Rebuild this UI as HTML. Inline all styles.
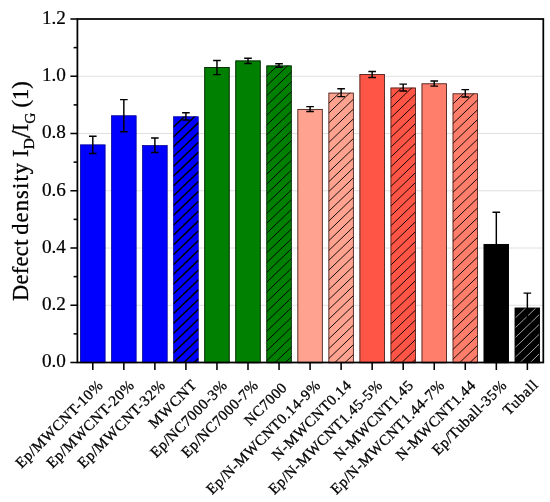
<!DOCTYPE html>
<html lang="en">
<head>
<meta charset="utf-8">
<title>Defect density chart</title>
<style>
html,body{margin:0;padding:0;background:#ffffff;}
body{width:550px;height:502px;overflow:hidden;}
svg{display:block;}
svg text{font-family:"Liberation Serif","DejaVu Serif",serif;fill:#000;}
</style>
</head>
<body>
<svg width="550" height="502" viewBox="0 0 550 502">
<rect x="0" y="0" width="550" height="502" fill="#ffffff"/>
<g stroke="#e0e0e0" stroke-width="1" fill="none">
<line x1="77.4" y1="305.25" x2="543.3" y2="305.25"/>
<line x1="77.4" y1="248.00" x2="543.3" y2="248.00"/>
<line x1="77.4" y1="190.75" x2="543.3" y2="190.75"/>
<line x1="77.4" y1="133.50" x2="543.3" y2="133.50"/>
<line x1="77.4" y1="76.25" x2="543.3" y2="76.25"/>
</g>
<defs>
<clipPath id="cb3"><rect x="173.37" y="116.50" width="25.10" height="246.00"/></clipPath>
<clipPath id="cb6"><rect x="266.49" y="65.60" width="25.10" height="296.90"/></clipPath>
<clipPath id="cb8"><rect x="328.57" y="92.80" width="25.10" height="269.70"/></clipPath>
<clipPath id="cb10"><rect x="390.65" y="87.70" width="25.10" height="274.80"/></clipPath>
<clipPath id="cb12"><rect x="452.73" y="93.50" width="25.10" height="269.00"/></clipPath>
<clipPath id="cb14"><rect x="514.81" y="307.80" width="25.10" height="54.70"/></clipPath>
</defs>
<g>
<rect x="80.25" y="144.60" width="25.10" height="217.90" fill="#0000ff"/>
<rect x="80.55" y="144.90" width="24.50" height="217.90" fill="none" stroke="#000070" stroke-width="0.6"/>
<path d="M92.80 136.20V153.40M89.00 136.20H96.60M89.00 153.40H96.60" stroke="#000" stroke-width="1.45" fill="none"/>
</g>
<g>
<rect x="111.29" y="115.50" width="25.10" height="247.00" fill="#0000ff"/>
<rect x="111.59" y="115.80" width="24.50" height="247.00" fill="none" stroke="#000070" stroke-width="0.6"/>
<path d="M123.84 99.60V131.80M120.04 99.60H127.64M120.04 131.80H127.64" stroke="#000" stroke-width="1.45" fill="none"/>
</g>
<g>
<rect x="142.33" y="145.30" width="25.10" height="217.20" fill="#0000ff"/>
<rect x="142.63" y="145.60" width="24.50" height="217.20" fill="none" stroke="#000070" stroke-width="0.6"/>
<path d="M154.88 137.90V152.40M151.08 137.90H158.68M151.08 152.40H158.68" stroke="#000" stroke-width="1.45" fill="none"/>
</g>
<g>
<rect x="173.37" y="116.50" width="25.10" height="246.00" fill="#0000ff"/>
<g clip-path="url(#cb3)" stroke="#000000" stroke-width="1.5" fill="none">
<line x1="173.37" y1="127.12" x2="198.47" y2="103.02"/>
<line x1="173.37" y1="136.94" x2="198.47" y2="112.84"/>
<line x1="173.37" y1="146.76" x2="198.47" y2="122.66"/>
<line x1="173.37" y1="156.58" x2="198.47" y2="132.48"/>
<line x1="173.37" y1="166.40" x2="198.47" y2="142.30"/>
<line x1="173.37" y1="176.22" x2="198.47" y2="152.12"/>
<line x1="173.37" y1="186.04" x2="198.47" y2="161.94"/>
<line x1="173.37" y1="195.86" x2="198.47" y2="171.76"/>
<line x1="173.37" y1="205.68" x2="198.47" y2="181.58"/>
<line x1="173.37" y1="215.50" x2="198.47" y2="191.40"/>
<line x1="173.37" y1="225.32" x2="198.47" y2="201.22"/>
<line x1="173.37" y1="235.14" x2="198.47" y2="211.04"/>
<line x1="173.37" y1="244.96" x2="198.47" y2="220.86"/>
<line x1="173.37" y1="254.78" x2="198.47" y2="230.68"/>
<line x1="173.37" y1="264.60" x2="198.47" y2="240.50"/>
<line x1="173.37" y1="274.42" x2="198.47" y2="250.32"/>
<line x1="173.37" y1="284.24" x2="198.47" y2="260.14"/>
<line x1="173.37" y1="294.06" x2="198.47" y2="269.96"/>
<line x1="173.37" y1="303.88" x2="198.47" y2="279.78"/>
<line x1="173.37" y1="313.70" x2="198.47" y2="289.60"/>
<line x1="173.37" y1="323.52" x2="198.47" y2="299.42"/>
<line x1="173.37" y1="333.34" x2="198.47" y2="309.24"/>
<line x1="173.37" y1="343.16" x2="198.47" y2="319.06"/>
<line x1="173.37" y1="352.98" x2="198.47" y2="328.88"/>
<line x1="173.37" y1="362.80" x2="198.47" y2="338.70"/>
<line x1="173.37" y1="372.62" x2="198.47" y2="348.52"/>
<line x1="173.37" y1="382.44" x2="198.47" y2="358.34"/>
</g>
<rect x="173.67" y="116.80" width="24.50" height="246.00" fill="none" stroke="#000070" stroke-width="0.6"/>
<path d="M185.92 112.70V120.00M182.12 112.70H189.72M182.12 120.00H189.72" stroke="#000" stroke-width="1.45" fill="none"/>
</g>
<g>
<rect x="204.41" y="67.20" width="25.10" height="295.30" fill="#008000"/>
<rect x="204.71" y="67.50" width="24.50" height="295.30" fill="none" stroke="#062006" stroke-width="0.85"/>
<path d="M216.96 60.40V74.60M213.16 60.40H220.76M213.16 74.60H220.76" stroke="#000" stroke-width="1.45" fill="none"/>
</g>
<g>
<rect x="235.45" y="60.60" width="25.10" height="301.90" fill="#008000"/>
<rect x="235.75" y="60.90" width="24.50" height="301.90" fill="none" stroke="#062006" stroke-width="0.85"/>
<path d="M248.00 58.30V63.40M244.20 58.30H251.80M244.20 63.40H251.80" stroke="#000" stroke-width="1.45" fill="none"/>
</g>
<g>
<rect x="266.49" y="65.60" width="25.10" height="296.90" fill="#008000"/>
<g clip-path="url(#cb6)" stroke="#000000" stroke-width="0.95" fill="none">
<line x1="266.49" y1="76.22" x2="291.59" y2="52.12"/>
<line x1="266.49" y1="86.04" x2="291.59" y2="61.94"/>
<line x1="266.49" y1="95.86" x2="291.59" y2="71.76"/>
<line x1="266.49" y1="105.68" x2="291.59" y2="81.58"/>
<line x1="266.49" y1="115.50" x2="291.59" y2="91.40"/>
<line x1="266.49" y1="125.32" x2="291.59" y2="101.22"/>
<line x1="266.49" y1="135.14" x2="291.59" y2="111.04"/>
<line x1="266.49" y1="144.96" x2="291.59" y2="120.86"/>
<line x1="266.49" y1="154.78" x2="291.59" y2="130.68"/>
<line x1="266.49" y1="164.60" x2="291.59" y2="140.50"/>
<line x1="266.49" y1="174.42" x2="291.59" y2="150.32"/>
<line x1="266.49" y1="184.24" x2="291.59" y2="160.14"/>
<line x1="266.49" y1="194.06" x2="291.59" y2="169.96"/>
<line x1="266.49" y1="203.88" x2="291.59" y2="179.78"/>
<line x1="266.49" y1="213.70" x2="291.59" y2="189.60"/>
<line x1="266.49" y1="223.52" x2="291.59" y2="199.42"/>
<line x1="266.49" y1="233.34" x2="291.59" y2="209.24"/>
<line x1="266.49" y1="243.16" x2="291.59" y2="219.06"/>
<line x1="266.49" y1="252.98" x2="291.59" y2="228.88"/>
<line x1="266.49" y1="262.80" x2="291.59" y2="238.70"/>
<line x1="266.49" y1="272.62" x2="291.59" y2="248.52"/>
<line x1="266.49" y1="282.44" x2="291.59" y2="258.34"/>
<line x1="266.49" y1="292.26" x2="291.59" y2="268.16"/>
<line x1="266.49" y1="302.08" x2="291.59" y2="277.98"/>
<line x1="266.49" y1="311.90" x2="291.59" y2="287.80"/>
<line x1="266.49" y1="321.72" x2="291.59" y2="297.62"/>
<line x1="266.49" y1="331.54" x2="291.59" y2="307.44"/>
<line x1="266.49" y1="341.36" x2="291.59" y2="317.26"/>
<line x1="266.49" y1="351.18" x2="291.59" y2="327.08"/>
<line x1="266.49" y1="361.00" x2="291.59" y2="336.90"/>
<line x1="266.49" y1="370.82" x2="291.59" y2="346.72"/>
<line x1="266.49" y1="380.64" x2="291.59" y2="356.54"/>
</g>
<rect x="266.79" y="65.90" width="24.50" height="296.90" fill="none" stroke="#062006" stroke-width="0.85"/>
<path d="M279.04 63.80V67.20M275.24 63.80H282.84M275.24 67.20H282.84" stroke="#000" stroke-width="1.45" fill="none"/>
</g>
<g>
<rect x="297.53" y="109.10" width="25.10" height="253.40" fill="#ffa28f"/>
<rect x="297.83" y="109.40" width="24.50" height="253.40" fill="none" stroke="#40201c" stroke-width="0.85"/>
<path d="M310.08 106.60V111.40M306.28 106.60H313.88M306.28 111.40H313.88" stroke="#000" stroke-width="1.45" fill="none"/>
</g>
<g>
<rect x="328.57" y="92.80" width="25.10" height="269.70" fill="#ffa28f"/>
<g clip-path="url(#cb8)" stroke="#000000" stroke-width="0.92" fill="none">
<line x1="328.57" y1="103.42" x2="353.67" y2="79.32"/>
<line x1="328.57" y1="113.24" x2="353.67" y2="89.14"/>
<line x1="328.57" y1="123.06" x2="353.67" y2="98.96"/>
<line x1="328.57" y1="132.88" x2="353.67" y2="108.78"/>
<line x1="328.57" y1="142.70" x2="353.67" y2="118.60"/>
<line x1="328.57" y1="152.52" x2="353.67" y2="128.42"/>
<line x1="328.57" y1="162.34" x2="353.67" y2="138.24"/>
<line x1="328.57" y1="172.16" x2="353.67" y2="148.06"/>
<line x1="328.57" y1="181.98" x2="353.67" y2="157.88"/>
<line x1="328.57" y1="191.80" x2="353.67" y2="167.70"/>
<line x1="328.57" y1="201.62" x2="353.67" y2="177.52"/>
<line x1="328.57" y1="211.44" x2="353.67" y2="187.34"/>
<line x1="328.57" y1="221.26" x2="353.67" y2="197.16"/>
<line x1="328.57" y1="231.08" x2="353.67" y2="206.98"/>
<line x1="328.57" y1="240.90" x2="353.67" y2="216.80"/>
<line x1="328.57" y1="250.72" x2="353.67" y2="226.62"/>
<line x1="328.57" y1="260.54" x2="353.67" y2="236.44"/>
<line x1="328.57" y1="270.36" x2="353.67" y2="246.26"/>
<line x1="328.57" y1="280.18" x2="353.67" y2="256.08"/>
<line x1="328.57" y1="290.00" x2="353.67" y2="265.90"/>
<line x1="328.57" y1="299.82" x2="353.67" y2="275.72"/>
<line x1="328.57" y1="309.64" x2="353.67" y2="285.54"/>
<line x1="328.57" y1="319.46" x2="353.67" y2="295.36"/>
<line x1="328.57" y1="329.28" x2="353.67" y2="305.18"/>
<line x1="328.57" y1="339.10" x2="353.67" y2="315.00"/>
<line x1="328.57" y1="348.92" x2="353.67" y2="324.82"/>
<line x1="328.57" y1="358.74" x2="353.67" y2="334.64"/>
<line x1="328.57" y1="368.56" x2="353.67" y2="344.46"/>
<line x1="328.57" y1="378.38" x2="353.67" y2="354.28"/>
<line x1="328.57" y1="388.20" x2="353.67" y2="364.10"/>
</g>
<rect x="328.87" y="93.10" width="24.50" height="269.70" fill="none" stroke="#40201c" stroke-width="0.85"/>
<path d="M341.12 88.70V96.60M337.32 88.70H344.92M337.32 96.60H344.92" stroke="#000" stroke-width="1.45" fill="none"/>
</g>
<g>
<rect x="359.61" y="74.20" width="25.10" height="288.30" fill="#ff5546"/>
<rect x="359.91" y="74.50" width="24.50" height="288.30" fill="none" stroke="#40201c" stroke-width="0.85"/>
<path d="M372.16 71.40V77.50M368.36 71.40H375.96M368.36 77.50H375.96" stroke="#000" stroke-width="1.45" fill="none"/>
</g>
<g>
<rect x="390.65" y="87.70" width="25.10" height="274.80" fill="#ff5546"/>
<g clip-path="url(#cb10)" stroke="#000000" stroke-width="0.92" fill="none">
<line x1="390.65" y1="98.32" x2="415.75" y2="74.22"/>
<line x1="390.65" y1="108.14" x2="415.75" y2="84.04"/>
<line x1="390.65" y1="117.96" x2="415.75" y2="93.86"/>
<line x1="390.65" y1="127.78" x2="415.75" y2="103.68"/>
<line x1="390.65" y1="137.60" x2="415.75" y2="113.50"/>
<line x1="390.65" y1="147.42" x2="415.75" y2="123.32"/>
<line x1="390.65" y1="157.24" x2="415.75" y2="133.14"/>
<line x1="390.65" y1="167.06" x2="415.75" y2="142.96"/>
<line x1="390.65" y1="176.88" x2="415.75" y2="152.78"/>
<line x1="390.65" y1="186.70" x2="415.75" y2="162.60"/>
<line x1="390.65" y1="196.52" x2="415.75" y2="172.42"/>
<line x1="390.65" y1="206.34" x2="415.75" y2="182.24"/>
<line x1="390.65" y1="216.16" x2="415.75" y2="192.06"/>
<line x1="390.65" y1="225.98" x2="415.75" y2="201.88"/>
<line x1="390.65" y1="235.80" x2="415.75" y2="211.70"/>
<line x1="390.65" y1="245.62" x2="415.75" y2="221.52"/>
<line x1="390.65" y1="255.44" x2="415.75" y2="231.34"/>
<line x1="390.65" y1="265.26" x2="415.75" y2="241.16"/>
<line x1="390.65" y1="275.08" x2="415.75" y2="250.98"/>
<line x1="390.65" y1="284.90" x2="415.75" y2="260.80"/>
<line x1="390.65" y1="294.72" x2="415.75" y2="270.62"/>
<line x1="390.65" y1="304.54" x2="415.75" y2="280.44"/>
<line x1="390.65" y1="314.36" x2="415.75" y2="290.26"/>
<line x1="390.65" y1="324.18" x2="415.75" y2="300.08"/>
<line x1="390.65" y1="334.00" x2="415.75" y2="309.90"/>
<line x1="390.65" y1="343.82" x2="415.75" y2="319.72"/>
<line x1="390.65" y1="353.64" x2="415.75" y2="329.54"/>
<line x1="390.65" y1="363.46" x2="415.75" y2="339.36"/>
<line x1="390.65" y1="373.28" x2="415.75" y2="349.18"/>
<line x1="390.65" y1="383.10" x2="415.75" y2="359.00"/>
</g>
<rect x="390.95" y="88.00" width="24.50" height="274.80" fill="none" stroke="#40201c" stroke-width="0.85"/>
<path d="M403.20 84.10V91.00M399.40 84.10H407.00M399.40 91.00H407.00" stroke="#000" stroke-width="1.45" fill="none"/>
</g>
<g>
<rect x="421.69" y="83.50" width="25.10" height="279.00" fill="#ff7d6b"/>
<rect x="421.99" y="83.80" width="24.50" height="279.00" fill="none" stroke="#40201c" stroke-width="0.85"/>
<path d="M434.24 81.00V86.10M430.44 81.00H438.04M430.44 86.10H438.04" stroke="#000" stroke-width="1.45" fill="none"/>
</g>
<g>
<rect x="452.73" y="93.50" width="25.10" height="269.00" fill="#ff7d6b"/>
<g clip-path="url(#cb12)" stroke="#000000" stroke-width="0.92" fill="none">
<line x1="452.73" y1="104.12" x2="477.83" y2="80.02"/>
<line x1="452.73" y1="113.94" x2="477.83" y2="89.84"/>
<line x1="452.73" y1="123.76" x2="477.83" y2="99.66"/>
<line x1="452.73" y1="133.58" x2="477.83" y2="109.48"/>
<line x1="452.73" y1="143.40" x2="477.83" y2="119.30"/>
<line x1="452.73" y1="153.22" x2="477.83" y2="129.12"/>
<line x1="452.73" y1="163.04" x2="477.83" y2="138.94"/>
<line x1="452.73" y1="172.86" x2="477.83" y2="148.76"/>
<line x1="452.73" y1="182.68" x2="477.83" y2="158.58"/>
<line x1="452.73" y1="192.50" x2="477.83" y2="168.40"/>
<line x1="452.73" y1="202.32" x2="477.83" y2="178.22"/>
<line x1="452.73" y1="212.14" x2="477.83" y2="188.04"/>
<line x1="452.73" y1="221.96" x2="477.83" y2="197.86"/>
<line x1="452.73" y1="231.78" x2="477.83" y2="207.68"/>
<line x1="452.73" y1="241.60" x2="477.83" y2="217.50"/>
<line x1="452.73" y1="251.42" x2="477.83" y2="227.32"/>
<line x1="452.73" y1="261.24" x2="477.83" y2="237.14"/>
<line x1="452.73" y1="271.06" x2="477.83" y2="246.96"/>
<line x1="452.73" y1="280.88" x2="477.83" y2="256.78"/>
<line x1="452.73" y1="290.70" x2="477.83" y2="266.60"/>
<line x1="452.73" y1="300.52" x2="477.83" y2="276.42"/>
<line x1="452.73" y1="310.34" x2="477.83" y2="286.24"/>
<line x1="452.73" y1="320.16" x2="477.83" y2="296.06"/>
<line x1="452.73" y1="329.98" x2="477.83" y2="305.88"/>
<line x1="452.73" y1="339.80" x2="477.83" y2="315.70"/>
<line x1="452.73" y1="349.62" x2="477.83" y2="325.52"/>
<line x1="452.73" y1="359.44" x2="477.83" y2="335.34"/>
<line x1="452.73" y1="369.26" x2="477.83" y2="345.16"/>
<line x1="452.73" y1="379.08" x2="477.83" y2="354.98"/>
</g>
<rect x="453.03" y="93.80" width="24.50" height="269.00" fill="none" stroke="#40201c" stroke-width="0.85"/>
<path d="M465.28 89.60V97.00M461.48 89.60H469.08M461.48 97.00H469.08" stroke="#000" stroke-width="1.45" fill="none"/>
</g>
<g>
<rect x="483.77" y="244.10" width="25.10" height="118.40" fill="#000000"/>
<rect x="484.07" y="244.40" width="24.50" height="118.40" fill="none" stroke="#000000" stroke-width="0.85"/>
<path d="M496.32 212.30V275.90M492.52 212.30H500.12M492.52 275.90H500.12" stroke="#000" stroke-width="1.45" fill="none"/>
</g>
<g>
<rect x="514.81" y="307.80" width="25.10" height="54.70" fill="#000000"/>
<g clip-path="url(#cb14)" stroke="#e6e6e6" stroke-width="0.7" fill="none">
<line x1="514.81" y1="318.42" x2="539.91" y2="294.32"/>
<line x1="514.81" y1="328.24" x2="539.91" y2="304.14"/>
<line x1="514.81" y1="338.06" x2="539.91" y2="313.96"/>
<line x1="514.81" y1="347.88" x2="539.91" y2="323.78"/>
<line x1="514.81" y1="357.70" x2="539.91" y2="333.60"/>
<line x1="514.81" y1="367.52" x2="539.91" y2="343.42"/>
<line x1="514.81" y1="377.34" x2="539.91" y2="353.24"/>
<line x1="514.81" y1="387.16" x2="539.91" y2="363.06"/>
</g>
<rect x="515.11" y="308.10" width="24.50" height="54.70" fill="none" stroke="#000000" stroke-width="0.85"/>
<path d="M527.36 293.10V321.70M523.56 293.10H531.16M523.56 321.70H531.16" stroke="#000" stroke-width="1.45" fill="none"/>
</g>
<rect x="77.4" y="19.0" width="465.9" height="343.5" fill="none" stroke="#000" stroke-width="1.75"/>
<g stroke="#000" stroke-width="1.55" fill="none">
<line x1="70.40" y1="362.50" x2="77.4" y2="362.50"/>
<line x1="73.60" y1="333.88" x2="77.4" y2="333.88"/>
<line x1="70.40" y1="305.25" x2="77.4" y2="305.25"/>
<line x1="73.60" y1="276.62" x2="77.4" y2="276.62"/>
<line x1="70.40" y1="248.00" x2="77.4" y2="248.00"/>
<line x1="73.60" y1="219.38" x2="77.4" y2="219.38"/>
<line x1="70.40" y1="190.75" x2="77.4" y2="190.75"/>
<line x1="73.60" y1="162.12" x2="77.4" y2="162.12"/>
<line x1="70.40" y1="133.50" x2="77.4" y2="133.50"/>
<line x1="73.60" y1="104.88" x2="77.4" y2="104.88"/>
<line x1="70.40" y1="76.25" x2="77.4" y2="76.25"/>
<line x1="73.60" y1="47.62" x2="77.4" y2="47.62"/>
<line x1="70.40" y1="19.00" x2="77.4" y2="19.00"/>
<line x1="92.80" y1="362.5" x2="92.80" y2="370.0"/>
<line x1="123.84" y1="362.5" x2="123.84" y2="370.0"/>
<line x1="154.88" y1="362.5" x2="154.88" y2="370.0"/>
<line x1="185.92" y1="362.5" x2="185.92" y2="370.0"/>
<line x1="216.96" y1="362.5" x2="216.96" y2="370.0"/>
<line x1="248.00" y1="362.5" x2="248.00" y2="370.0"/>
<line x1="279.04" y1="362.5" x2="279.04" y2="370.0"/>
<line x1="310.08" y1="362.5" x2="310.08" y2="370.0"/>
<line x1="341.12" y1="362.5" x2="341.12" y2="370.0"/>
<line x1="372.16" y1="362.5" x2="372.16" y2="370.0"/>
<line x1="403.20" y1="362.5" x2="403.20" y2="370.0"/>
<line x1="434.24" y1="362.5" x2="434.24" y2="370.0"/>
<line x1="465.28" y1="362.5" x2="465.28" y2="370.0"/>
<line x1="496.32" y1="362.5" x2="496.32" y2="370.0"/>
<line x1="527.36" y1="362.5" x2="527.36" y2="370.0"/>
</g>
<g font-size="17.8" text-anchor="end" stroke="#000" stroke-width="0.2">
<text x="65.9" y="367.40" textLength="24.0" lengthAdjust="spacingAndGlyphs">0.0</text>
<text x="65.9" y="310.15" textLength="24.0" lengthAdjust="spacingAndGlyphs">0.2</text>
<text x="65.9" y="252.90" textLength="24.0" lengthAdjust="spacingAndGlyphs">0.4</text>
<text x="65.9" y="195.65" textLength="24.0" lengthAdjust="spacingAndGlyphs">0.6</text>
<text x="65.9" y="138.40" textLength="24.0" lengthAdjust="spacingAndGlyphs">0.8</text>
<text x="65.9" y="81.15" textLength="24.0" lengthAdjust="spacingAndGlyphs">1.0</text>
<text x="65.9" y="23.90" textLength="24.0" lengthAdjust="spacingAndGlyphs">1.2</text>
</g>
<g stroke="#000" stroke-width="0.3">
<text transform="translate(28.00 300.90) rotate(-90)" font-size="22.5" textLength="61.3" lengthAdjust="spacing">Defect</text>
<text transform="translate(28.00 234.80) rotate(-90)" font-size="22.5" textLength="71.9" lengthAdjust="spacing">density</text>
<text transform="translate(28.00 157.00) rotate(-90)" font-size="22.5">I</text>
<text transform="translate(34.30 149.30) rotate(-90)" font-size="15.5">D</text>
<text transform="translate(30.30 138.00) rotate(-90)" font-size="26.8">/</text>
<text transform="translate(28.00 131.15) rotate(-90)" font-size="22.5">I</text>
<text transform="translate(34.50 123.75) rotate(-90)" font-size="15.5">G</text>
<text transform="translate(28.00 107.60) rotate(-90)" font-size="22.5">(1)</text>
</g>
<g font-size="15.0" text-anchor="end" stroke="#000" stroke-width="0.3">
<text transform="translate(103.70 386.50) rotate(-45)" textLength="116.4" lengthAdjust="spacing">Ep/MWCNT-10%</text>
<text transform="translate(134.74 386.50) rotate(-45)" textLength="116.4" lengthAdjust="spacing">Ep/MWCNT-20%</text>
<text transform="translate(165.78 386.50) rotate(-45)" textLength="116.4" lengthAdjust="spacing">Ep/MWCNT-32%</text>
<text transform="translate(197.31 386.01) rotate(-45)" textLength="60.7" lengthAdjust="spacing">MWCNT</text>
<text transform="translate(227.86 386.50) rotate(-45)" textLength="101.3" lengthAdjust="spacing">Ep/NC7000-3%</text>
<text transform="translate(258.90 386.50) rotate(-45)" textLength="101.3" lengthAdjust="spacing">Ep/NC7000-7%</text>
<text transform="translate(287.61 388.83) rotate(-45)" textLength="53.0" lengthAdjust="spacing">NC7000</text>
<text transform="translate(320.98 386.50) rotate(-45)" textLength="153.6" lengthAdjust="spacing">Ep/N-MWCNT0.14-9%</text>
<text transform="translate(352.02 386.50) rotate(-45)" textLength="105.2" lengthAdjust="spacing">N-MWCNT0.14</text>
<text transform="translate(383.06 386.50) rotate(-45)" textLength="153.6" lengthAdjust="spacing">Ep/N-MWCNT1.45-5%</text>
<text transform="translate(414.10 386.50) rotate(-45)" textLength="105.2" lengthAdjust="spacing">N-MWCNT1.45</text>
<text transform="translate(445.14 386.50) rotate(-45)" textLength="153.6" lengthAdjust="spacing">Ep/N-MWCNT1.44-7%</text>
<text transform="translate(476.18 386.50) rotate(-45)" textLength="105.2" lengthAdjust="spacing">N-MWCNT1.44</text>
<text transform="translate(507.22 386.50) rotate(-45)" textLength="98.0" lengthAdjust="spacing">Ep/Tuball-35%</text>
<text transform="translate(538.61 386.15) rotate(-45)" textLength="42.2" lengthAdjust="spacing">Tuball</text>
</g>
</svg>
</body>
</html>
